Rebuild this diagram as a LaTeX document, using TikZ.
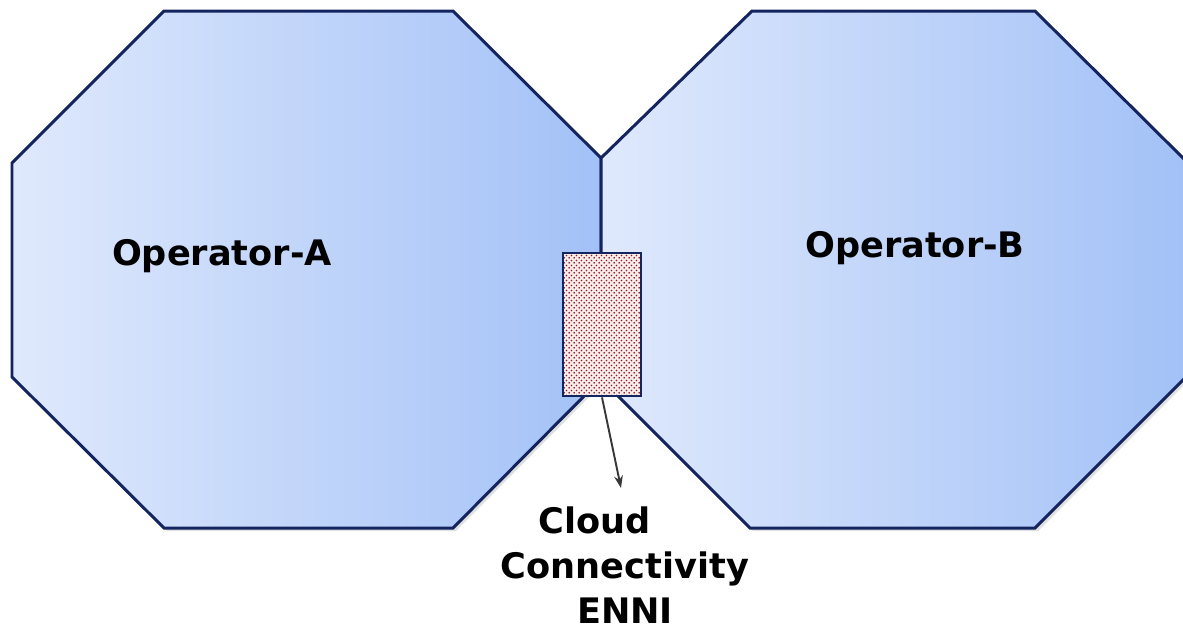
\documentclass[tikz,border=0pt]{standalone}
\usepackage{fontspec}
\setmainfont{DejaVu Sans}
\usepackage{xcolor}
\usepackage{tikz}
\usetikzlibrary{patterns,patterns.meta,arrows.meta}

\definecolor{opline}{HTML}{14245E}
\definecolor{oplight}{HTML}{DFE9FC}
\definecolor{opdark}{HTML}{A3C1F7}
\definecolor{ennidots}{HTML}{8E1C1C}
\definecolor{ennibg}{HTML}{F8ECEC}

\tikzdeclarepattern{
    name=ennigrain, type=uncolored,
    bounding box={(0pt,0pt) and (3pt,3pt)},
    tile size={(3pt,3pt)},
    code={
        \fill (0.75pt,0.75pt) circle (0.62pt);
        \fill (2.25pt,2.25pt) circle (0.62pt);
    }
}

\tikzset{
    operator/.style={left color=oplight, right color=opdark, draw=opline, line width=1.7pt},
    oplabel/.style={font=\bfseries\fontsize{20}{24}\selectfont, anchor=base},
    ennibox/.style={draw=opline, line width=1.6pt, minimum width=1.56cm, minimum height=2.86cm,
        inner sep=0pt, preaction={fill=ennibg}, pattern=ennigrain, pattern color=ennidots}
}

\begin{document}
\begin{tikzpicture}[x=0.02cm, y=-0.02cm]

    % Fix the page size
    \useasboundingbox (0,0) rectangle (1183,630);

    % Soft shadows under the octagons
    \fill[black, opacity=0.12] (167,14) -- (456,14) -- (604,161) -- (604,382) -- (456,531) -- (167,531) -- (15,380) -- (15,166) -- cycle;
    \fill[black, opacity=0.12] (755,14) -- (1038,14) -- (1188,163) -- (1188,381) -- (1038,531) -- (753,531) -- (604,382) -- (604,161) -- cycle;

    % Octagon of Operator-A
    \shade[operator] (164,11) -- (453,11) -- (601,158) -- (601,379) -- (453,528) -- (164,528) -- (12,377) -- (12,163) -- cycle;

    % Octagon of Operator-B
    \shade[operator] (752,11) -- (1035,11) -- (1185,160) -- (1185,378) -- (1035,528) -- (750,528) -- (601,379) -- (601,158) -- cycle;

    % Operator names
    \node[oplabel] (opA) at (222,265) {Operator-A};
    \node[oplabel] (opB) at (915,257) {Operator-B};

    % Interconnect box on the shared border
    \node[ennibox] (enni) at (602,324.5) {};

    % Label under the box and its pointer
    \node[font=\bfseries\fontsize{20}{25.5}\selectfont, align=center, anchor=north] (ennitext) at (625,501)
        {Cloud\hspace*{1.2cm}\\Connectivity\\ENNI};
    \coordinate (ennitip) at (621,488);
    \draw[-{Stealth[length=7pt,width=5pt]}, line width=1.1pt, black!78] (enni.south) -- (ennitip);

\end{tikzpicture}
\end{document}
